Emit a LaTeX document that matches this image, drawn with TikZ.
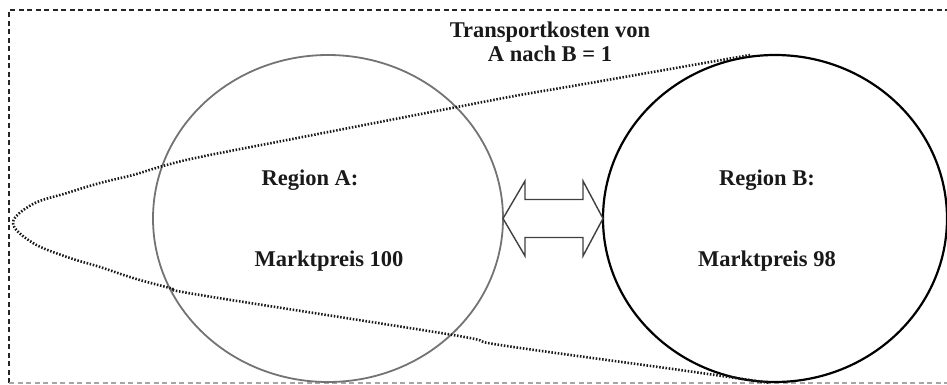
\documentclass[tikz,border=0pt]{standalone}
\usepackage{fontspec}
\setmainfont{Liberation Serif}
\usetikzlibrary{shapes.geometric}
\begin{document}
\begin{tikzpicture}[x={(1pt,0)},y={(0,-1pt)},
  frame/.style={line width=1.2pt,dash pattern=on 5pt off 3.5pt,black!85},
  regionA/.style={ellipse,draw=black!55,line width=1.8pt,inner sep=0pt,outer sep=0pt,minimum width=350pt,minimum height=327pt},
  regionB/.style={ellipse,draw=black,line width=2.2pt,inner sep=0pt,outer sep=0pt,minimum width=344pt,minimum height=327pt},
  label/.style={font=\fontsize{22.5}{24}\selectfont\bfseries,align=center,inner sep=0pt,text=black!90},
  dotline/.style={line width=2.6pt,dash pattern=on 1.5pt off 1.7pt,black!90},
  arrowshape/.style={draw=black!75,line width=1.4pt,fill=white,line join=miter}]
\useasboundingbox (0,0) rectangle (947,385);
\draw[frame] (9,383) -- (9,10) -- (960,10);
\draw[frame,black!35] (9,383) -- (960,383);
\node[regionA] (A) at (328,218.5) {};
\node[regionB] (B) at (775,218.5) {};
\draw[dotline] plot[smooth,tension=0.6] coordinates {(750,55) (590,83) (520,95) (457,107) (300,137.5) (200,157) (163,166) (133,175) (100,183) (67,193) (33,204) (13,223) (33,243) (67,257) (100,267) (133,278) (170,288) (200,295) (453,335) (500,345) (680,370) (770,383)};
\draw[arrowshape] (A.east) -- ++(22,-37.5) -- ++(0,18.5) -- ++(58,0) -- ++(0,-18.5) -- (B.west) -- ++(-20,37.5) -- ++(0,-18.5) -- ++(-58,0) -- ++(0,18.5) -- cycle;
\node[label] (title) at (550,42) {Transportkosten von\\A nach B = 1};
\node[label] (ra) at (310,180) {Region A:};
\node[label] (pa) at (329,261) {Marktpreis 100};
\node[label] (rb) at (767,180) {Region B:};
\node[label] (pb) at (767,261) {Marktpreis 98};
\end{tikzpicture}
\end{document}
